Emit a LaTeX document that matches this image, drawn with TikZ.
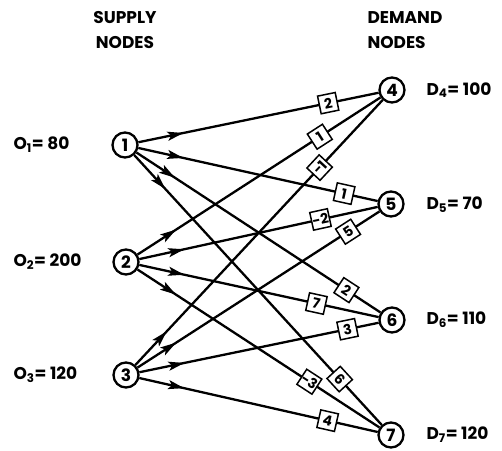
\documentclass[tikz,border=0pt]{standalone}
\usepackage{fontspec}
\setmainfont{Poppins}
\usetikzlibrary{arrows.meta,decorations.markings}
\begin{document}
\begin{tikzpicture}[x=1pt,y=-1pt,
  vnode/.style={circle,draw,fill=white,line width=2.3pt,minimum size=25pt,inner sep=0pt,font=\fontsize{17}{17}\selectfont\bfseries},
  cost/.style={draw,fill=white,line width=1.5pt,minimum size=18pt,inner sep=0pt,font=\fontsize{14}{14}\selectfont\bfseries,sloped},
  flow/.style={line width=2.3pt,postaction={decorate},decoration={markings,mark=at position 46pt with {\arrow{Stealth[length=16pt,width=9pt,inset=3.5pt]}}}},
  txt/.style={font=\fontsize{17}{17}\selectfont\bfseries,anchor=west},
  hdr/.style={font=\fontsize{17}{25}\selectfont\bfseries},
]
\useasboundingbox (0,0) rectangle (502,450);
\node[hdr,align=center] (hs) at (125,30) {SUPPLY\\NODES};
\node[hdr,align=left,anchor=west] (hd) at (364,30) {DEMAND\\NODES};

\node[vnode] (n1) at (125,145) {1};
\node[vnode] (n2) at (126,262) {2};
\node[vnode] (n3) at (126,375) {3};
\node[vnode] (n4) at (392,90) {4};
\node[vnode] (n5) at (391,204) {5};
\node[vnode] (n6) at (392,320) {6};
\node[vnode] (n7) at (391,435) {7};

\draw[flow] (n1) -- node[cost,pos=0.79] {2} (n4);
\draw[flow] (n1) -- node[cost,pos=0.86] {1} (n5);
\draw[flow] (n1) -- node[cost,pos=0.86] {2} (n6);
\draw[flow] (n1) -- node[cost,pos=0.83] {6} (n7);
\draw[flow] (n2) -- node[cost,pos=0.75] {1} (n4);
\draw[flow] (n2) -- node[cost,pos=0.76] {-2} (n5);
\draw[flow] (n2) -- node[cost,pos=0.74] {7} (n6);
\draw[flow] (n2) -- node[cost,pos=0.71] {-3} (n7);
\draw[flow] (n3) -- node[cost,pos=0.745] {-1} (n4);
\draw[flow] (n3) -- node[cost,pos=0.87] {5} (n5);
\draw[flow] (n3) -- node[cost,pos=0.87] {3} (n6);
\draw[flow] (n3) -- node[cost,pos=0.79] {4} (n7);

\node[txt] (o1) at (10,145) {O\textsubscript{1}= 80};
\node[txt] (o2) at (10,262) {O\textsubscript{2}= 200};
\node[txt] (o3) at (10,375) {O\textsubscript{3}= 120};
\node[txt] (d4) at (423,90) {D\textsubscript{4}= 100};
\node[txt] (d5) at (423,205) {D\textsubscript{5}= 70};
\node[txt] (d6) at (423,320) {D\textsubscript{6}= 110};
\node[txt] (d7) at (423,435) {D\textsubscript{7}= 120};
\end{tikzpicture}
\end{document}
